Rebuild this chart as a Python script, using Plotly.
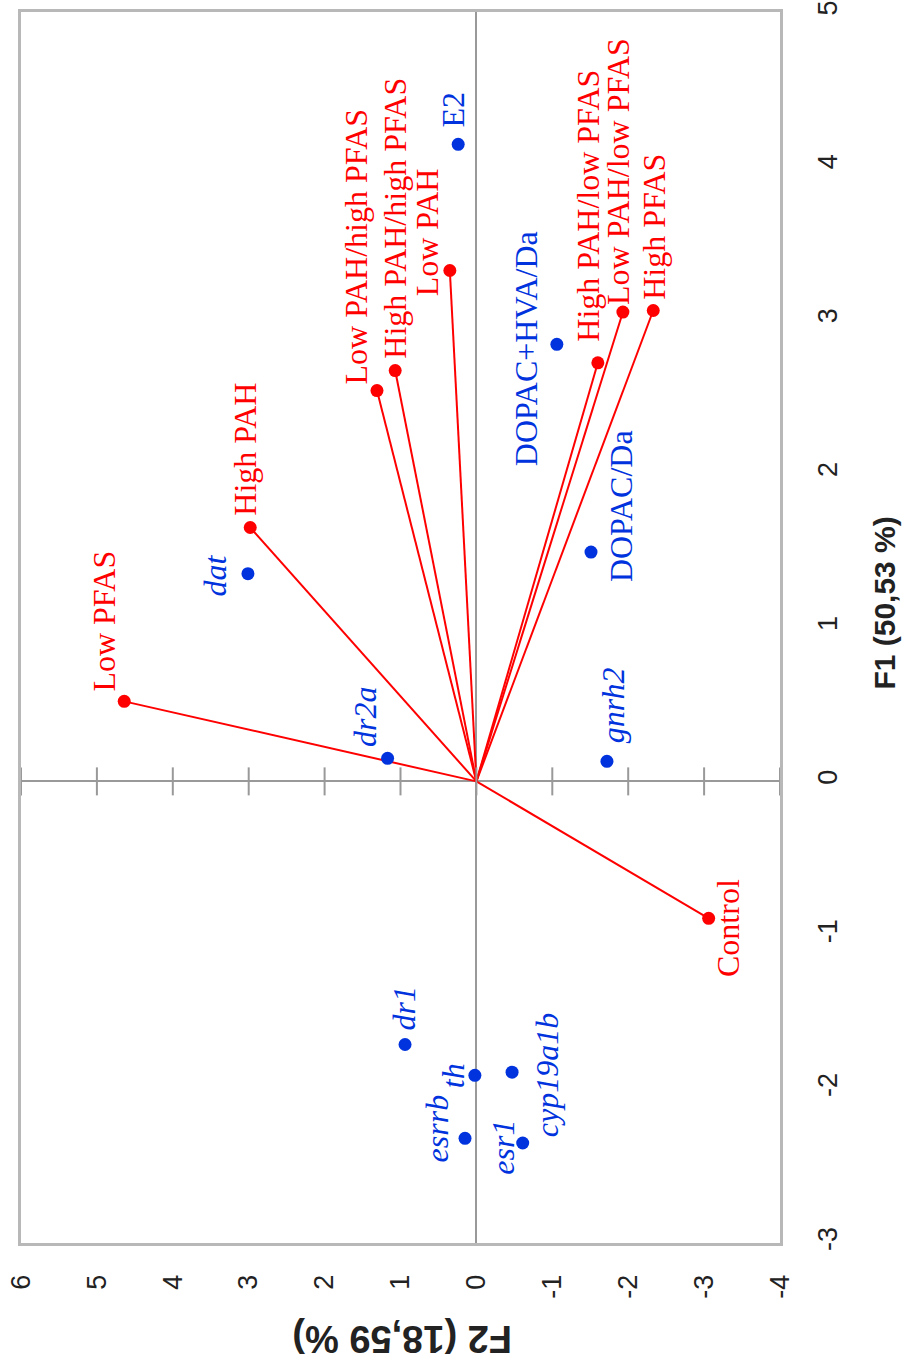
import plotly.graph_objects as go

# Treatment scores (F2, F1)
treatments = ["Low PFAS", "High PAH", "Low PAH/high PFAS", "High PAH/high PFAS", "Low PAH",
              "High PAH/low PFAS", "Low PAH/low PFAS", "High PFAS", "Control"]
treat_f2 = [4.64, 2.98, 1.31, 1.07, 0.35, -1.60, -1.93, -2.33, -3.06]
treat_f1 = [0.52, 1.65, 2.54, 2.67, 3.32, 2.72, 3.05, 3.06, -0.89]

# Variable loadings (F2, F1)
variables = ["E2", "DOPAC+HVA/Da", "DOPAC/Da", "<i>dat</i>", "<i>dr2a</i>", "<i>gnrh2</i>",
             "<i>dr1</i>", "<i>th</i>", "<i>cyp19a1b</i>", "<i>esrrb</i>", "<i>esr1</i>"]
var_f2 = [0.24, -1.06, -1.51, 3.01, 1.17, -1.72, 0.94, 0.02, -0.47, 0.15, -0.61]
var_f1 = [4.14, 2.84, 1.49, 1.35, 0.15, 0.13, -1.71, -1.91, -1.89, -2.32, -2.35]

f2_ticks = [6, 5, 4, 3, 2, 1, 0, -1, -2, -3, -4]
f2_labels = ["6", "5", "4", "3", "2", "1", "0", "-1", "-2", "-3", "-4"]
f1_ticks = [5, 4, 3, 2, 1, 0, -1, -2, -3]
f1_labels = ["5", "4", "3", "2", "1", "0", "-1", "-2", "-3"]

# label offsets in pixels (dx, dy) relative to each point
treat_off = [(-20, 80), (-5, 78), (-21, 144), (-1, 152), (-23, 38),
             (-10, 157), (-5, 141), (0, 84), (20, -10)]
var_off = [(-5, 35), (-30, -4), (30, 46), (-33, -2), (-22, 41), (6, 56),
           (-2, 36), (-22, 0), (35, -3), (-28, 10), (-20, -4)]

RED = "#ff0000"
BLUE = "#0033dd"
ZERO = "#999999"
FRAME = "#b8b8b8"

fig = go.Figure()

# vectors from origin to treatment scores
for x, y in zip(treat_f2, treat_f1):
    fig.add_trace(go.Scatter(x=[0, x], y=[0, y], mode="lines",
                             line=dict(color=RED, width=2), hoverinfo="skip"))

# tick marks crossing the F1 = 0 axis
fig.add_trace(go.Scatter(x=f2_ticks, y=[0] * len(f2_ticks), mode="markers",
                         marker=dict(symbol="line-ns", size=20,
                                     line=dict(color=ZERO, width=2)),
                         hoverinfo="skip"))

fig.add_trace(go.Scatter(x=treat_f2, y=treat_f1, mode="markers",
                         marker=dict(color=RED, size=13), text=treatments))
fig.add_trace(go.Scatter(x=var_f2, y=var_f1, mode="markers",
                         marker=dict(color=BLUE, size=13), text=variables))

ann = []
for name, x, y, (dx, dy) in zip(treatments, treat_f2, treat_f1, treat_off):
    ann.append(dict(x=x, y=y, xref="x", yref="y", text=name, showarrow=False,
                    textangle=-90, xshift=dx, yshift=dy, xanchor="center", yanchor="middle",
                    font=dict(family="Liberation Serif", size=32, color=RED)))
for name, x, y, (dx, dy) in zip(variables, var_f2, var_f1, var_off):
    ann.append(dict(x=x, y=y, xref="x", yref="y", text=name, showarrow=False,
                    textangle=-90, xshift=dx, yshift=dy, xanchor="center", yanchor="middle",
                    font=dict(family="Liberation Serif", size=32, color=BLUE)))

# axis titles
ann.append(dict(x=0.502, y=-0.078, xref="paper", yref="paper", text="<b>F2 (18,59 %)</b>",
                showarrow=False, textangle=180, xanchor="center", yanchor="middle",
                font=dict(family="Liberation Sans", size=38, color="#222222")))
ann.append(dict(x=1.138, y=0.52, xref="paper", yref="paper", text="<b>F1 (50,53 %)</b>",
                showarrow=False, textangle=-90, xanchor="center", yanchor="middle",
                font=dict(family="Liberation Sans", size=30, color="#222222")))

axis_common = dict(showgrid=False, zeroline=True, zerolinecolor=ZERO, zerolinewidth=2,
                   showline=True, mirror=True, linecolor=FRAME, linewidth=3,
                   ticks="", tickangle=-90, automargin=False,
                   tickfont=dict(family="Liberation Sans", size=27, color="#222222"))

fig.update_layout(
    width=904, height=1366,
    margin=dict(l=21, r=124, t=12, b=123),
    paper_bgcolor="white", plot_bgcolor="white",
    showlegend=False,
    xaxis=dict(range=[6, -4], tickvals=f2_ticks, ticktext=f2_labels,
               ticklabelstandoff=18, **axis_common),
    yaxis=dict(range=[-3, 5], tickvals=f1_ticks, ticktext=f1_labels, side="right",
               ticklabelstandoff=22, **axis_common),
    annotations=ann,
)

fig.write_html("out.html")
